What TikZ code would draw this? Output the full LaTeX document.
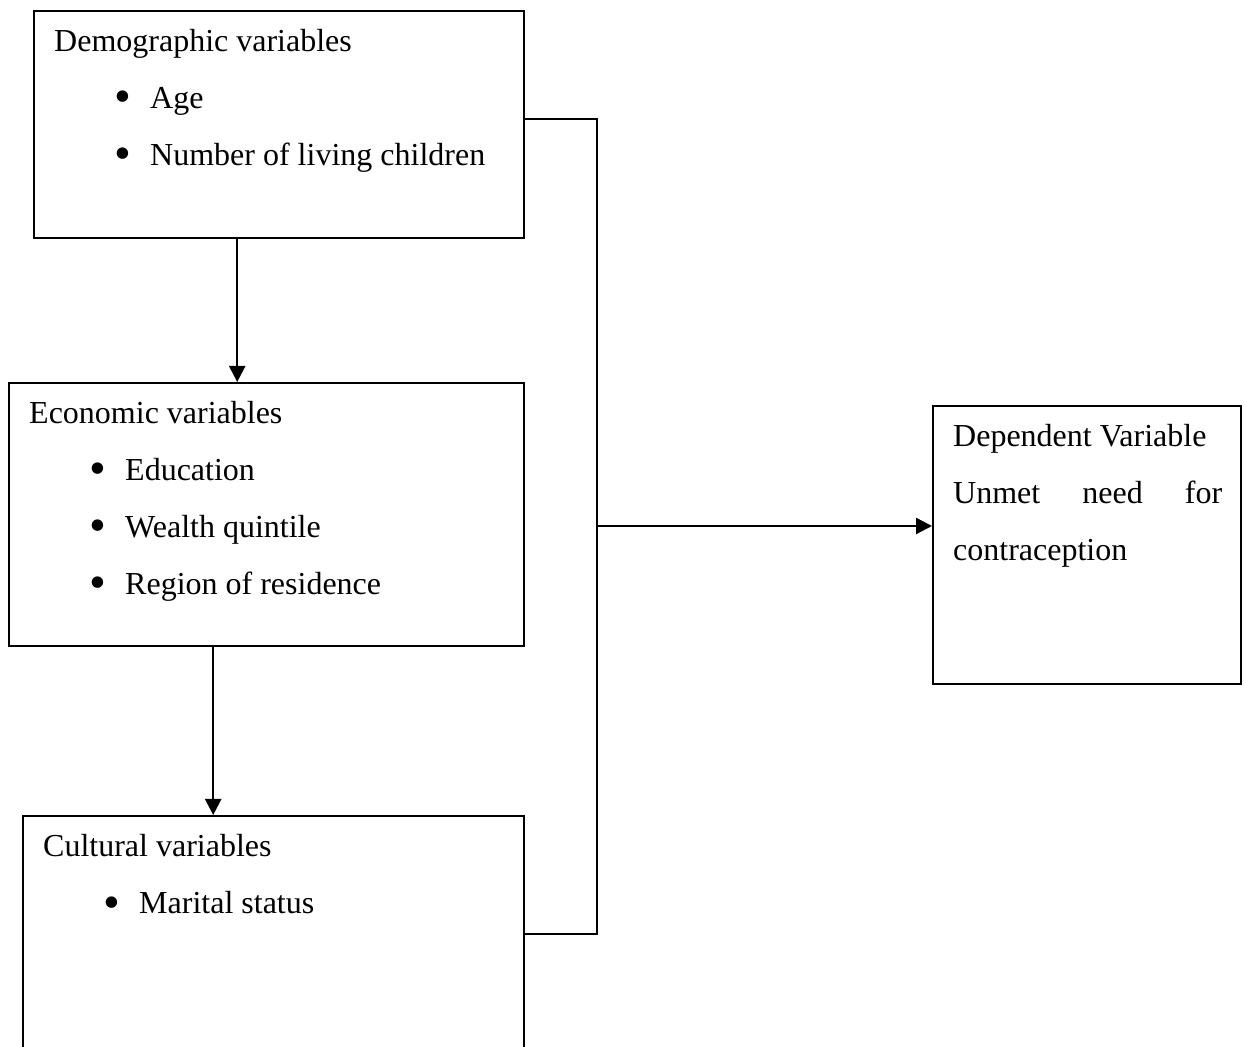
\documentclass[tikz,border=0pt]{standalone}
\usepackage{fontspec}
\setmainfont{Liberation Serif}
\usetikzlibrary{arrows.meta}

\newcommand{\bulletline}[1]{\par\hspace*{30pt}\makebox[18pt][l]{\raisebox{-2.4pt}{\scalebox{1.5}{\textbullet}}}#1}
\newcommand{\boxtext}[3]{\parbox[c][#2][t]{#1}{\fontsize{16pt}{28.5pt}\selectfont
  \parindent=0pt\leftskip=10pt\rightskip=9.5pt\tolerance=10000\hyphenpenalty=10000
  \rule{0pt}{20pt}#3}}

\begin{document}
\begin{tikzpicture}[x=0.5pt,y=-0.5pt,>={Triangle[length=8pt,width=8pt]},
                    line width=1.2pt,
                    var box/.style={draw,rectangle,inner sep=0pt,anchor=north west}]
  \clip (0,0) rectangle (1244,1047);
  \node[var box] (demo) at (33,10)
    {\boxtext{245pt}{113.5pt}{Demographic variables
       \bulletline{Age}
       \bulletline{Number of living children}}};
  \node[var box] (econ) at (8,382)
    {\boxtext{257.5pt}{131.5pt}{Economic variables
       \bulletline{Education}
       \bulletline{Wealth quintile}
       \bulletline{Region of residence}}};
  \node[var box] (cult) at (22,815)
    {\boxtext{250.5pt}{118pt}{Cultural variables
       \bulletline{Marital status}}};
  \node[var box] (dep) at (932,405)
    {\boxtext{154pt}{139pt}{Dependent Variable\par
       Unmet need for contraception}};
  \coordinate (bus) at (597,526);
  \draw[->] ([xshift=-21pt]demo.south) -- ([xshift=-21pt]demo.south |- econ.north);
  \draw[->] ([xshift=-26.75pt]econ.south) -- ([xshift=-26.75pt]econ.south |- cult.north);
  \draw ([yshift=2.75pt]demo.east) -| (bus) |- (cult.east);
  \draw[->] (bus) -- (bus -| dep.west);
\end{tikzpicture}
\end{document}
